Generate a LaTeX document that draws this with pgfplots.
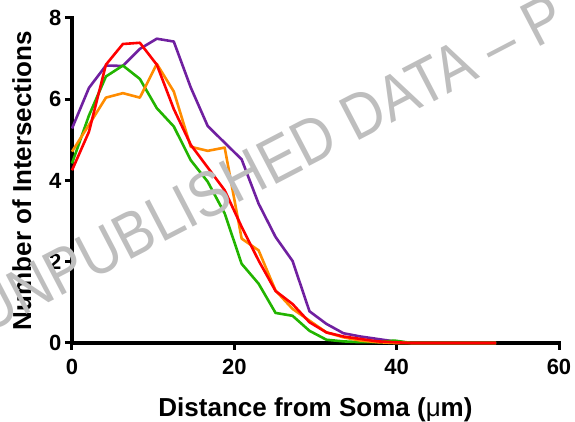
\documentclass[border=0pt]{standalone}
\usepackage{pgfplots}
\pgfplotsset{compat=1.18}
\usepackage{fontspec}
\setmainfont{Liberation Sans}
\definecolor{cpurple}{RGB}{112,32,160}
\definecolor{corange}{RGB}{255,140,0}
\definecolor{cgreen}{RGB}{34,180,0}
\definecolor{cred}{RGB}{255,0,0}
\definecolor{wmgray}{RGB}{190,190,190}
\begin{document}
\begin{tikzpicture}
\path[use as bounding box] (-72pt,-79pt) rectangle (503pt,343pt);
\begin{axis}[
  scale only axis, width=487pt, height=325pt,
  xmin=0, xmax=60, ymin=0, ymax=8,
  axis lines=left,
  axis line style={-, line width=3.5pt, line cap=rect},
  xtick={0,20,40,60}, ytick={0,2,4,6,8},
  tick align=outside, major tick length=7pt,
  tick style={line width=3pt, black},
  /pgf/number format/assume math mode=true,
  ticklabel style={font=\bfseries\fontsize{22}{26}\selectfont},
  xticklabel style={yshift=-6pt},
  yticklabel style={xshift=0pt},
  label style={font=\bfseries\fontsize{26}{30}\selectfont},
  xlabel={Distance from Soma ({\mdseries μ}m)},
  ylabel={Number of Intersections},
  xlabel style={at={(axis description cs:0.5,-0.206)}, anchor=center},
  ylabel style={at={(axis description cs:-0.103,0.5)}, anchor=center, rotate=0},
  clip=false,
  every axis plot/.append style={line width=2.6pt, mark=none, line join=round},
]
\addplot[cpurple] coordinates {
(0,5.28) (2.09,6.28) (4.18,6.83) (6.27,6.82) (8.36,7.24) (10.45,7.49) (12.54,7.42)
(14.63,6.29) (16.72,5.34) (18.81,4.93) (20.9,4.52) (22.99,3.43) (25.08,2.61) (27.17,2.02)
(29.26,0.78) (31.35,0.47) (33.44,0.24) (35.53,0.16) (37.62,0.10) (39.71,0.04) (41.8,0)
(43.89,0) (45.98,0) (48.07,0) (50.16,0) (52.25,0)};
\addplot[cgreen] coordinates {
(0,4.42) (2.09,5.6) (4.18,6.56) (6.27,6.83) (8.36,6.5) (10.45,5.78) (12.54,5.33)
(14.63,4.5) (16.72,3.97) (18.81,3.19) (20.9,1.95) (22.99,1.46) (25.08,0.74) (27.17,0.67)
(29.26,0.30) (31.35,0.08) (33.44,0.04) (35.53,0.02) (37.62,0.02) (39.71,0.06) (41.8,0)
(43.89,0) (45.98,0) (48.07,0) (50.16,0) (52.25,0)};
\addplot[corange] coordinates {
(0,4.71) (2.09,5.37) (4.18,6.04) (6.27,6.15) (8.36,6.04) (10.45,6.87) (12.54,6.19)
(14.63,4.83) (16.72,4.73) (18.81,4.81) (20.9,2.57) (22.99,2.28) (25.08,1.29) (27.17,0.84)
(29.26,0.55) (31.35,0.26) (33.44,0.14) (35.53,0.06) (37.62,0.02) (39.71,0) (41.8,0)
(43.89,0) (45.98,0) (48.07,0) (50.16,0) (52.25,0)};
\addplot[cred] coordinates {
(0,4.25) (2.09,5.2) (4.18,6.85) (6.27,7.36) (8.36,7.39) (10.45,6.85) (12.54,5.76)
(14.63,4.88) (16.72,4.32) (18.81,3.76) (20.9,2.86) (22.99,2.03) (25.08,1.28) (27.17,0.96)
(29.26,0.51) (31.35,0.26) (33.44,0.16) (35.53,0.10) (37.62,0.04) (39.71,0.02) (41.8,0)
(43.89,0) (45.98,0) (48.07,0) (50.16,0) (52.25,0)};
\end{axis}
\node[overlay, rotate=27.5, anchor=base west, text=wmgray, inner sep=0pt,
  font=\fontsize{64}{66}\selectfont] at (-86pt,8pt) {\scalebox{0.88}[1]{UNPUBLISHED DATA – P}};
\end{tikzpicture}
\end{document}
